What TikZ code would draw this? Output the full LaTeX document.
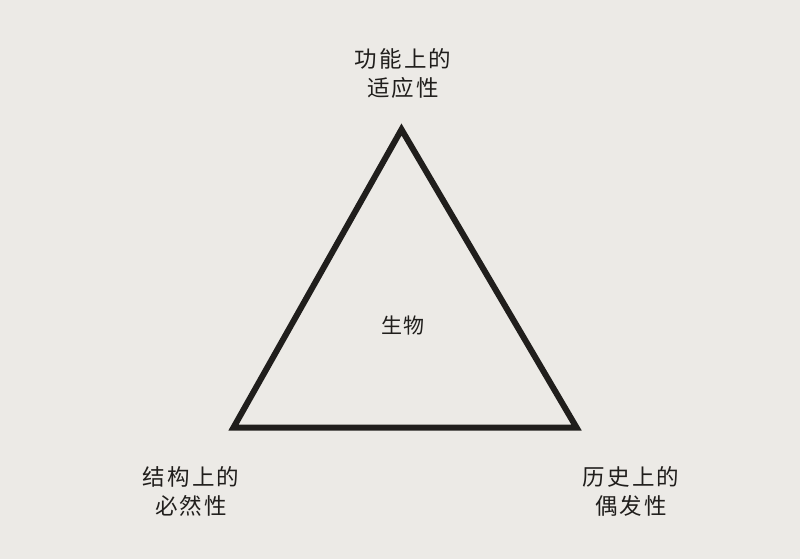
\documentclass[tikz,border=0pt]{standalone}
\usepackage{fontspec}
\newfontfamily\cjk[LetterSpace=9]{Noto Sans CJK SC}
\newfontfamily\cjkb{Noto Sans CJK SC}
\definecolor{paper}{RGB}{236,234,230}
\definecolor{ink}{RGB}{32,30,28}
\begin{document}
\begin{tikzpicture}[x=1pt,y=-1pt,
  lbl/.style={text=ink,align=center,inner sep=0pt,font=\cjk\fontsize{22.5}{28.5}\selectfont},
  mid/.style={text=ink,inner sep=0pt,font=\cjk\fontsize{21}{25}\selectfont},
  tri/.style={draw=ink,line width=6pt,line join=miter}]
\fill[paper] (0,0) rectangle (800,559);
\useasboundingbox (0,0) rectangle (800,559);
\coordinate (A) at (401.5,129.5);
\coordinate (B) at (233.5,427.5);
\coordinate (C) at (576.5,427.5);
\draw[tri] (A) -- (B) -- (C) -- cycle;
\node[lbl] (top) at (403,73.5) {功能上的\\适应性};
\node[lbl] (left) at (191,491.5) {结构上的\\必然性};
\node[lbl] (right) at (631,491.5) {历史上的\\偶发性};
\node[mid] (center) at (403,325.5) {生物};
\end{tikzpicture}
\end{document}
